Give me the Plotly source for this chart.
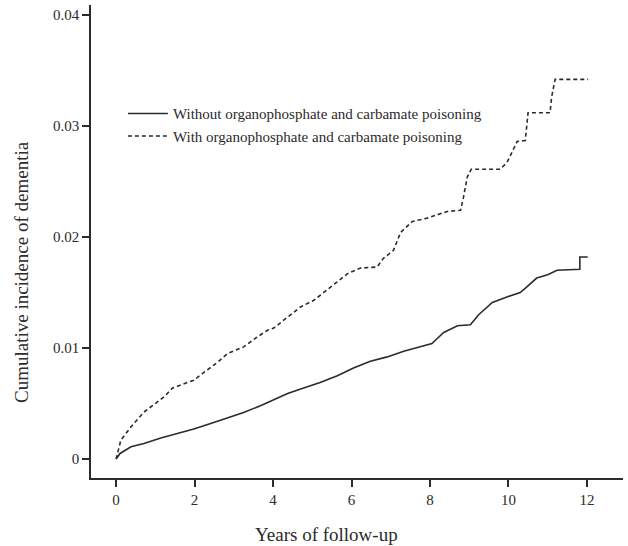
import plotly.graph_objects as go

# Cumulative incidence, without poisoning (solid)
years_without = [0, 0.1, 0.38, 0.71, 1.14, 1.57, 1.98, 2.41, 2.84, 3.25, 3.68, 4.1, 4.37, 4.78,
                 5.2, 5.64, 6.05, 6.48, 6.91, 7.33, 7.76, 8.05, 8.2, 8.35, 8.7, 9.03, 9.24, 9.59,
                 9.96, 10.3, 10.47, 10.72, 11.0, 11.24, 11.82, 11.82, 12.02]
inc_without = [0, 0.0005, 0.0011, 0.0014, 0.0019, 0.0023, 0.0027, 0.0032, 0.0037, 0.0042, 0.0048,
               0.0055, 0.0059, 0.0064, 0.0069, 0.0075, 0.0082, 0.0088, 0.0092, 0.0097, 0.0101,
               0.0104, 0.0109, 0.0114, 0.0120, 0.0121, 0.0130, 0.0141, 0.0146, 0.0150, 0.0155,
               0.0163, 0.0166, 0.0170, 0.0171, 0.0182, 0.0182]

# Cumulative incidence, with poisoning (dashed)
years_with = [0, 0.05, 0.12, 0.38, 0.7, 0.96, 1.22, 1.44, 1.73, 1.98, 2.24, 2.58, 2.84, 3.25, 3.6,
              3.86, 4.02, 4.37, 4.7, 5.04, 5.29, 5.64, 5.9, 6.23, 6.65, 6.82, 7.07, 7.25, 7.55,
              7.93, 8.44, 8.78, 8.85, 8.95, 9.05, 9.79, 9.96, 10.1, 10.22, 10.43, 10.5, 11.06,
              11.1, 11.19, 12.03]
inc_with = [0, 0.0008, 0.0017, 0.0029, 0.0042, 0.0049, 0.0056, 0.0064, 0.0068, 0.0071, 0.0078,
            0.0087, 0.0095, 0.0101, 0.0110, 0.0116, 0.0118, 0.0128, 0.0137, 0.0143, 0.0150,
            0.0159, 0.0167, 0.0172, 0.0173, 0.0181, 0.0188, 0.0204, 0.0214, 0.0217, 0.0223,
            0.0224, 0.0235, 0.0254, 0.0261, 0.0261, 0.0267, 0.0277, 0.0286, 0.0287, 0.0312,
            0.0312, 0.0326, 0.0342, 0.0342]

x_ticks = [0, 2, 4, 6, 8, 10, 12]
y_ticks = [0, 0.01, 0.02, 0.03, 0.04]
y_tick_labels = ["0", "0.01", "0.02", "0.03", "0.04"]

label_without = "Without organophosphate and carbamate poisoning"
label_with = "With organophosphate and carbamate poisoning"

FONT = "Liberation Serif, Times New Roman, serif"
INK = "#2b2b2b"

fig = go.Figure()
fig.add_trace(go.Scatter(x=years_without, y=inc_without, mode="lines", name=label_without,
                         line=dict(color=INK, width=1.6)))
fig.add_trace(go.Scatter(x=years_with, y=inc_with, mode="lines", name=label_with,
                         line=dict(color=INK, width=1.6, dash="4px,3px")))

fig.update_layout(
    width=628, height=546,
    margin=dict(l=91, r=5, t=5, b=68),
    paper_bgcolor="white", plot_bgcolor="white",
    font=dict(family=FONT, color=INK, size=15),
    showlegend=True,
    legend=dict(x=0.06, y=0.805, xanchor="left", yanchor="top",
                bgcolor="rgba(0,0,0,0)", font=dict(size=15, family=FONT, color=INK),
                tracegroupgap=0, itemwidth=40),
    xaxis=dict(range=[-0.64, 12.92], tickvals=x_ticks, showgrid=False, zeroline=False,
               showline=True, linecolor=INK, linewidth=1.5, ticks="outside", ticklen=7,
               tickwidth=1.5, tickcolor=INK, tickfont=dict(size=15, family=FONT, color=INK)),
    yaxis=dict(range=[-0.00171, 0.0409], tickvals=y_ticks, ticktext=y_tick_labels,
               showgrid=False, zeroline=False, showline=True, linecolor=INK, linewidth=1.5,
               ticks="outside", ticklen=7, tickwidth=1.5, tickcolor=INK,
               tickfont=dict(size=15, family=FONT, color=INK)),
    annotations=[
        dict(text="Years of follow-up", xref="paper", yref="paper", x=0.442, y=-0.092,
             xanchor="center", yanchor="top", showarrow=False,
             font=dict(size=19, family=FONT, color=INK)),
        dict(text="Cumulative incidence of dementia", xref="paper", yref="paper",
             x=-0.132, y=0.435, xanchor="center", yanchor="middle", textangle=-90,
             showarrow=False, font=dict(size=19, family=FONT, color=INK)),
    ],
)

fig.write_html("out.html", config={"displayModeBar": False},
               post_script="document.body.style.margin='0';")
